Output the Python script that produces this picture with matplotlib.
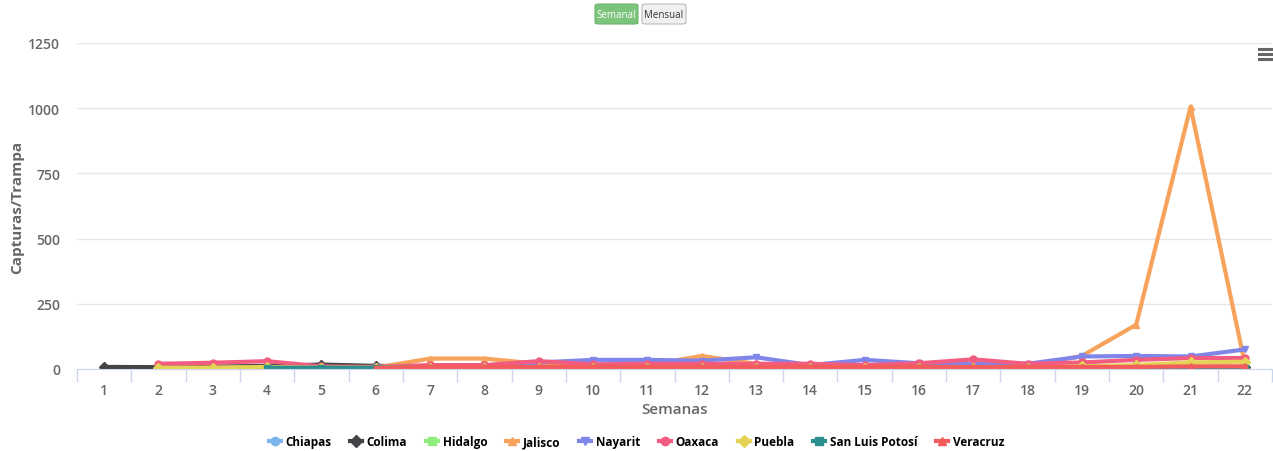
import numpy as np
import matplotlib.pyplot as plt
from matplotlib.patches import FancyBboxPatch
from matplotlib.lines import Line2D

semanas = list(range(1, 23))

# valores por estado (None = sin dato)
chiapas = [None, 1, 1, 1, 1, 1, 1, 1, 1, 1, 1, 1, 1, 1, 1, 1, 1, 1, 1, 1, 1, 1]
colima = [8, 7, 9, 12, 17, 12, 10, 10, 12, 8, 6, 6, 6, 5, 5, 5, 5, 5, 6, 7, 8, 8]
hidalgo = [None, 1, 1, 1, 1, 1, 1, 1, 1, 1, 1, 1, 1, 1, 1, 1, 1, 1, 1, 1, 1, 1]
jalisco = [None, 5, 5, 6, 6, 5, 40, 40, 20, 15, 15, 50, 20, 10, 15, 15, 15, 10, 50, 170, 1005, 20]
nayarit = [None, None, None, None, None, 6, 10, 12, 25, 35, 35, 32, 45, 15, 35, 22, 20, 20, 48, 50, 48, 75]
oaxaca = [None, 20, 24, 30, 10, 8, 15, 15, 30, 18, 20, 20, 20, 20, 15, 22, 37, 20, 25, 35, 42, 42]
puebla = [None, 5, 5, 8, 5, 5, 5, 5, 5, 5, 5, 5, 5, 5, 5, 5, 5, 5, 10, 15, 25, 28]
slp = [None, None, None, 5, 5, 5, 5, 5, 5, 3, 3, 3, 3, 3, 0, 3, 3, 3, 3, 3, 3, 3]
veracruz = [None, None, None, None, None, 3, 8, 8, 8, 8, 8, 8, 8, 8, 8, 8, 8, 8, 8, 8, 10, 10]

series = [
    ("Chiapas", chiapas, "#7cb5ec", "o"),
    ("Colima", colima, "#434348", "D"),
    ("Hidalgo", hidalgo, "#90ed7d", "s"),
    ("Jalisco", jalisco, "#f7a35c", "^"),
    ("Nayarit", nayarit, "#8085e9", "v"),
    ("Oaxaca", oaxaca, "#f15c80", "o"),
    ("Puebla", puebla, "#e4d354", "D"),
    ("San Luis Potosí", slp, "#2b908f", "s"),
    ("Veracruz", veracruz, "#f45b5b", "^"),
]

plt.rcParams['font.family'] = ['Open Sans', 'DejaVu Sans']

W, H = 1273, 452
fig = plt.figure(figsize=(12.73, 4.52), dpi=100)
ax = fig.add_axes([77 / W, (H - 370) / H, (1272 - 77) / W, 326 / H])

for nombre, vals, color, mk in series:
    y = np.array([np.nan if v is None else v for v in vals], dtype=float)
    ax.plot(semanas, y, color=color, lw=3, marker=mk, ms=5, label=nombre,
            solid_joinstyle='round')

ax.set_xlim(0.5, 22.5)
ax.set_ylim(0, 1250)
ax.set_yticks([0, 250, 500, 750, 1000, 1250])
ax.set_xticks(semanas)
ax.set_xticks(np.arange(0.5, 23, 1), minor=True)
ax.tick_params(axis='x', which='major', length=0, pad=10, labelsize=10, labelcolor='#666666')
ax.tick_params(axis='x', which='minor', length=9, color='#ccd6eb', width=1)
ax.tick_params(axis='y', length=0, pad=12, labelsize=10, labelcolor='#666666')
for lab in ax.get_xticklabels() + ax.get_yticklabels():
    lab.set_fontweight('semibold')

ax.grid(axis='y', color='#e6e6e6', lw=1)
ax.set_axisbelow(True)
for s in ['top', 'right', 'left']:
    ax.spines[s].set_visible(False)
ax.spines['bottom'].set_color('#ccd6eb')

ax.set_xlabel("Semanas", fontsize=11, color='#666666', fontweight='semibold', labelpad=4)
fig.text(17 / W, 1 - 207 / H, "Capturas/Trampa", rotation=90, ha='center', va='center',
         fontsize=11, color='#666666', fontweight='bold')

handles = [Line2D([0], [0], color=c, lw=3, marker=m, ms=6) for _, _, c, m in series]
fig.legend(handles, [s[0] for s in series], loc='center', bbox_to_anchor=(0.5, 1 - 443 / H),
           ncol=9, frameon=False, handlelength=1.0, handletextpad=0.4,
           columnspacing=1.6, prop={'weight': 'bold', 'size': 8.5})

# botones Semanal / Mensual
b1 = FancyBboxPatch((595 / W, 1 - 25 / H), 43 / W, 20 / H, boxstyle="round,pad=0,rounding_size=0.003",
                    transform=fig.transFigure, facecolor='#7cc47c', edgecolor='#6cb56c', lw=0.8)
b2 = FancyBboxPatch((642 / W, 1 - 25 / H), 44 / W, 20 / H, boxstyle="round,pad=0,rounding_size=0.003",
                    transform=fig.transFigure, facecolor='#f0f0f0', edgecolor='#bbbbbb', lw=0.8)
fig.add_artist(b1)
fig.add_artist(b2)
fig.text(616.5 / W, 1 - 15 / H, "Semanal", ha='center', va='center', fontsize=7, color='white')
fig.text(664 / W, 1 - 15 / H, "Mensual", ha='center', va='center', fontsize=7, color='#333333')

# icono de menú
for yy in [50, 55, 60]:
    fig.add_artist(Line2D([1259 / W, 1271 / W], [1 - yy / H, 1 - yy / H], color='#666666', lw=2.2,
                          transform=fig.transFigure))

fig.savefig("out.png", dpi=100)
